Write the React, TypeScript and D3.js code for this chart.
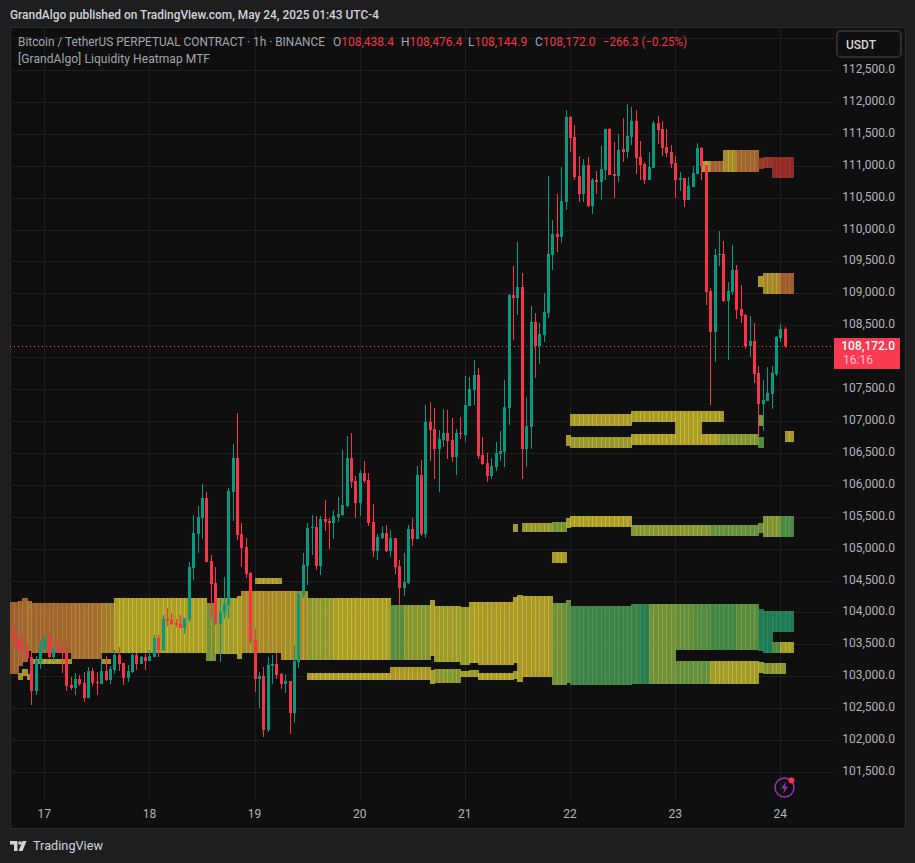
import * as d3 from "d3"

const WIDTH = 915
const HEIGHT = 863

// open, high, low, close of every 1h bar, the first one is bar -8 (16 May 16:00), bar 0 is 17 May 00:00
const firstBar = -8
const candles = [
  [103830,103986,103464,103647],[103647,103777,103490,103553],[103569,103647,103360,103459],[103474,103647,103360,103396],
  [103412,103516,103229,103287],[103297,103360,102550,102769],[102769,103318,102707,103255],[103224,103569,103114,103474],
  [103428,103631,103412,103605],[103600,103663,103281,103302],[103302,103454,103245,103443],[103443,103600,103365,103386],
  [103412,103542,103052,103365],[103375,103516,102769,102848],[102863,102989,102785,102816],[102816,103052,102707,102957],
  [102957,103020,102848,102879],[102895,103062,102597,102660],[102660,103145,102660,103083],[103083,103130,102848,102895],
  [102910,103062,102707,102895],[102879,103266,102879,103083],[103083,103318,102926,102942],[102942,103161,102879,103114],
  [103098,103412,103036,103334],[103334,103459,103083,103192],[103208,103208,102863,102973],[102973,103177,102910,103083],
  [103067,103381,103052,103334],[103334,103365,103098,103192],[103192,103318,103192,103302],[103302,103349,103098,103240],
  [103240,103412,103240,103318],[103302,103647,103302,103600],[103600,103647,103302,103412],[103412,103960,103396,103898],
  [103898,104070,103788,103866],[103882,103992,103804,103819],[103835,103898,103772,103804],[103819,103960,103757,103757],
  [103757,103913,103663,103913],[103897,104790,103851,104712],[104696,105522,104508,105245],[105229,105663,104931,105495],
  [105480,106012,105151,105793],[105793,105887,104790,104790],[104806,104900,103898,104446],[104461,104712,103804,103819],
  [103819,104210,103229,104007],[103991,104555,103898,104133],[104117,105950,103908,105903],[105887,106639,105433,106420],
  [106420,107125,105135,105213],[105229,105401,104712,105010],[105025,105166,104540,104602],[104618,104630,103506,103558],
  [103569,103741,102759,102963],[102957,103062,102508,103004],[103004,103140,102054,102158],[102158,103302,102132,103177],
  [103161,103334,102879,103193],[103193,103365,102957,103020],[103036,103052,102801,102879],[102879,103036,102738,102926],
  [102926,102926,102101,102425],[102425,103490,102268,103240],[103224,104337,103130,104289],[104274,104932,104227,104744],
  [104728,105402,104431,105324],[105324,105527,104901,105339],[105339,105512,104666,104728],[104728,105512,104587,105465],
  [105465,105762,105277,105418],[105433,105480,104995,105402],[105402,105606,105151,105512],[105496,105809,105418,105543],
  [105527,106546,105512,105684],[105668,106765,105653,106421],[106421,106812,105950,106044],[106060,106138,105480,105715],
  [105715,106232,105512,106185],[106185,106373,106029,106060],[106076,106185,105355,105402],[105418,105700,104869,104963],
  [104963,105230,104822,105183],[105167,105355,105151,105245],[105245,105371,104948,104963],[104963,105292,104869,105167],
  [105167,105167,104603,104713],[104728,104822,104117,104384],[104384,104932,104258,104478],[104462,105371,104446,105308],
  [105308,105480,105042,105151],[105151,106295,105151,106154],[106154,106389,105198,105230],[105230,107251,105167,106985],
  [106985,107298,106373,106859],[106875,107204,106091,106561],[106561,106859,105888,106718],[106703,107188,106593,106812],
  [106812,107173,106405,106687],[106703,107047,106358,106436],[106436,106875,106154,106812],[106812,107063,106718,106797],
  [106781,107705,106671,107251],[107235,107690,107235,107502],[107486,107956,107251,107721],[107721,107831,106405,106452],
  [106467,106750,106311,106326],[106342,106499,106044,106138],[106138,106421,106091,106295],[106279,106671,106217,106499],
  [106483,106844,106373,106530],[106514,107643,106279,107220],[107204,108990,106938,108975],[108975,109429,108269,108928],
  [108928,109805,108661,109100],[109100,109319,106091,106561],[106561,107376,106279,106922],[106906,108802,106561,108551],
  [108551,108693,107674,108175],[108175,108536,107893,108363],[108348,109006,108238,108708],[108693,110839,108614,109617],
  [109601,110150,109366,109930],[109930,110557,109648,109883],[109883,110980,109789,110447],[110432,111873,110306,111764],
  [111764,111779,111215,111435],[111450,111638,110776,110823],[110839,111153,110432,110557],[110557,111106,110432,111012],
  [111012,111137,110353,110369],[110369,110808,110244,110776],[110776,110918,110557,110745],[110745,111309,110463,110949],
  [110933,111576,110776,111576],[111576,111591,110855,110855],[110870,111372,110494,110839],[110839,111497,110745,111247],
  [111262,111748,111059,111215],[111215,111967,111121,111466],[111450,111920,111325,111701],[111701,111873,110870,111121],
  [111137,111388,110776,111012],[111027,111059,110714,110776],[110776,111215,110776,110980],[110965,111701,110965,111670],
  [111670,111779,111341,111560],[111576,111701,111153,111278],[111294,111576,111137,111200],[111215,111325,110965,111027],
  [111043,111153,110494,110776],[110776,110902,110604,110808],[110808,110808,110353,110463],[110463,110823,110463,110682],
  [110667,110996,110667,110886],[110870,111356,110870,111278],[111278,111294,110777,110996],[111012,111012,108818,109022],
  [109037,109084,107251,108395],[108395,109695,107925,109601],[109601,109977,109429,109617],[109617,109821,108865,108881],
  [108881,109178,107956,109037],[109022,109758,108975,109366],[109366,109445,108599,108740],[108755,109131,108536,108646],
  [108661,108677,108128,108175],[108175,108646,108003,108254],[108254,108536,107596,107737],[107752,107862,106734,107267],
  [107267,107643,106844,107329],[107314,107846,107314,107439],[107423,107862,107188,107752],[107737,108332,107705,108317],
  [108301,108520,108238,108442],[108438.4,108476.4,108144.9,108172],
]

// liquidity zones: start bar, end bar, top price, bottom price, heat (0 red .. 0.5 yellow .. 1 teal)
const mainZones = [
  [-8,-6,104164,103035,.28],[-6,-5,104179,103161,.3],[-6,-5,103051,102941,.44],[-5,-4,104226,103223,.3],
  [-5,-4,103114,103004,.46],[-4,-3,104179,103396,.34],[-4,-3,103035,102941,.46],[-3,6,104148,103364,.3],
  [-3,6,103270,103192,.48],[6,13,104148,103270,.33],[13,16,104148,103364,.38],[13,15,103270,103192,.46],
  [16,37,104226,103364,.5],[37,39,104148,103239,.62],[39,44,104226,103349,.52],[44,45,104258,103270,.5],
  [45,54,104336,103364,.43],[54,60,104336,103255,.44],[60,66,104226,103255,.56],[66,79,104226,103255,.5],
  [60,79,103051,102941,.5],[79,82,104117,103255,.68],[82,88,104117,103255,.58],[79,88,103145,102941,.47],
  [88,89,104195,103317,.49],[88,89,103098,102879,.5],[89,95,104101,103223,.53],[89,95,103114,102894,.58],
  [95,97,104085,103176,.55],[95,97,103082,102988,.52],[97,99,104164,103208,.5],[97,99,103098,102988,.55],
  [99,107,104164,103176,.48],[99,107,103051,102941,.5],[107,108,104242,103208,.5],[107,108,103082,102957,.55],
  [108,109,104273,102910,.49],[109,116,104258,102988,.48],[116,119,104148,102863,.63],[119,120,104195,102894,.67],
  [120,134,104101,102863,.76],[134,136,104132,102879,.78],[136,138,104132,102879,.92],[138,144,104132,102879,.63],
  [144,148,104132,103411,.66],[148,152,104132,103411,.7],[144,152,103239,102879,.66],[152,158,104132,103411,.74],
  [158,163,104132,103411,.68],[152,163,103239,102879,.52],[163,164,104054,103396,.94],
  [163,164,103223,103051,.52],[164,166,104022,103364,.98],[164,166,103208,103035,.6],[166,168,104022,103693,.98],
  [166,168,103537,103364,.72],[166,169,103208,103035,.56],[168,171,104022,103693,.98],[168,171,103537,103364,.52],
]

const middleZones = [
  [48,54,104540,104446,.48],[116,119,104947,104775,.48],[107,108,105386,105260,.52],[109,116,105402,105260,.55],
  [116,119,105417,105260,.62],[119,120,105480,105323,.52],[120,134,105511,105339,.5],[134,152,105370,105198,.58],
  [152,163,105370,105198,.66],[163,164,105402,105245,.66],[164,168,105511,105182,.6],[168,171,105511,105182,.72],
]

const upperZones = [
  [120,134,107110,106921,.48],[134,144,107157,106984,.49],[144,150,107157,106624,.5],[150,155,107157,106984,.49],
  [119,120,106780,106608,.48],[120,134,106749,106577,.55],[134,144,106796,106624,.5],[150,154,106796,106624,.5],
  [154,163,106796,106624,.58],[163,164,106749,106577,.7],[163,164,107094,106921,.6],[169,171,106843,106671,.48],
  [150,152,111074,110902,.5],[152,155,111074,110902,.28],[155,158,111246,110902,.44],[158,163,111246,110902,.3],
  [163,164,111121,110949,.12],[164,166,111137,110964,.1],[166,171,111137,110808,.06],
  [163,164,109272,109100,.48],[164,168,109319,108990,.42],[168,171,109319,108990,.27],
]

const dayLabels = ["17", "18", "19", "20", "21", "22", "23", "24"]
const lastPrice = 108172
const legendValues = [
  { x: 333, key: "O", value: "108,438.4" },
  { x: 401, key: "H", value: "108,476.4" },
  { x: 468, key: "L", value: "108,144.9" },
  { x: 535, key: "C", value: "108,172.0" },
]

const FONT = "Roboto, sans-serif"
const UP = "#089981"
const DOWN = "#f9324a"
const GRID = "#1f1f1f"

const paneLeft = 10
const paneRight = 833
const paneTop = 27
const paneBottom = 800

const x = d3.scaleLinear().domain([0, 168]).range([44.3, 780.3])
const y = d3.scaleLinear().domain([112500, 101500]).range([70, 772])
const heat = d3
  .scaleLinear<string>()
  .domain([0, 0.3, 0.5, 0.75, 1])
  .range(["#a8232a", "#c07a38", "#cfc030", "#4d9f55", "#229267"])

const gridPrices = d3.range(101500, 113500, 500)
const labelPrices = d3.range(101500, 113000, 500)
const allZones = [...mainZones, ...middleZones, ...upperZones]

export default function App() {
  const priceLabel = d3.format(",.1f")

  return (
    <svg
      width={WIDTH}
      height={HEIGHT}
      viewBox={`0 0 ${WIDTH} ${HEIGHT}`}
      style={{ position: "absolute", left: 0, top: 0, display: "block" }}
      fontFamily={FONT}
    >
      <defs>
        <clipPath id="pane">
          <rect x={paneLeft} y={paneTop} width={paneRight - paneLeft} height={paneBottom - paneTop} />
        </clipPath>
      </defs>

      <rect width={WIDTH} height={HEIGHT} fill="#1e1e1e" />
      <text x={10} y={19} fontSize={12} fontWeight={500} fill="#d1d4dc" textLength={369} lengthAdjust="spacingAndGlyphs">
        GrandAlgo published on TradingView.com, May 24, 2025 01:43 UTC-4
      </text>
      <rect x={10} y={27} width={895} height={801} fill="#0f0f0f" stroke="#2c2c2c" strokeWidth={1} shapeRendering="crispEdges" />

      {/* grid */}
      <g shapeRendering="crispEdges" stroke={GRID}>
        {gridPrices.map((p) => (
          <line key={p} x1={paneLeft} x2={paneRight} y1={Math.round(y(p))} y2={Math.round(y(p))} />
        ))}
        {dayLabels.map((d, i) => (
          <line key={d} x1={Math.round(x(i * 24))} x2={Math.round(x(i * 24))} y1={paneTop} y2={paneBottom} />
        ))}
      </g>

      {/* heatmap, one column per bar, the 1px overlap gives the light stripes */}
      <g clipPath="url(#pane)" shapeRendering="crispEdges">
        {allZones.flatMap(([start, end, top, bottom, h], zi) =>
          d3.range(start, end).map((bar) => {
            const x0 = Math.round(x(bar))
            const x1 = Math.round(x(bar + 1))
            const y0 = Math.round(y(top))
            return (
              <rect
                key={`${zi}-${bar}`}
                x={x0}
                y={y0}
                width={x1 - x0 + 1}
                height={Math.round(y(bottom)) - y0}
                fill={heat(h)}
                fillOpacity={0.8}
              />
            )
          }),
        )}
      </g>

      {/* candles */}
      <g clipPath="url(#pane)" shapeRendering="crispEdges">
        {candles.map(([o, h, l, c], i) => {
          const cx = Math.round(x(firstBar + i))
          const color = c >= o ? UP : DOWN
          const bodyTop = Math.round(y(Math.max(o, c)))
          const bodyBottom = Math.round(y(Math.min(o, c)))
          return (
            <g key={i} fill={color}>
              <rect x={cx} y={Math.round(y(h))} width={1} height={Math.max(1, Math.round(y(l)) - Math.round(y(h)))} />
              <rect x={cx - 1} y={bodyTop} width={3} height={Math.max(1, bodyBottom - bodyTop)} />
            </g>
          )
        })}
      </g>

      {/* last price line */}
      <line
        x1={paneLeft}
        x2={paneRight}
        y1={Math.round(y(lastPrice))}
        y2={Math.round(y(lastPrice))}
        stroke="#f23645"
        strokeDasharray="1 3"
        shapeRendering="crispEdges"
      />

      {/* legend */}
      <g fontSize={12}>
        <text x={18} y={46} fill="#a3a6af" textLength={307} lengthAdjust="spacingAndGlyphs">
          Bitcoin / TetherUS PERPETUAL CONTRACT · 1h · BINANCE
        </text>
        {legendValues.map((v) => (
          <text key={v.key} x={v.x} y={46} fill="#a3a6af">
            {v.key}
            <tspan fill="#f23645">{v.value}</tspan>
          </text>
        ))}
        <text x={603} y={46} fill="#f23645" textLength={84} lengthAdjust="spacingAndGlyphs">
          −266.3 (−0.25%)
        </text>
        <text x={18} y={63} fill="#a3a6af" textLength={192} lengthAdjust="spacing">
          [GrandAlgo] Liquidity Heatmap MTF
        </text>
      </g>

      {/* price axis */}
      <g fontSize={12} fill="#b2b5bc" textAnchor="end">
        {labelPrices
          .filter((p) => p !== 108000)
          .map((p) => (
            <text key={p} x={895} y={y(p) + 3}>
              {priceLabel(p)}
            </text>
          ))}
      </g>
      <rect x={837} y={31} width={64} height={26} rx={4} fill="#0f0f0f" stroke="#3a3a3a" strokeWidth={1.5} />
      <text x={846} y={49} fontSize={12} fontWeight={500} fill="#d1d4dc">
        USDT
      </text>
      <rect x={834} y={338} width={66} height={31} fill="#f9394f" />
      <text x={895} y={350} fontSize={12} fontWeight={500} fill="#ffffff" textAnchor="end">
        {priceLabel(lastPrice)}
      </text>
      <text x={843} y={364} fontSize={12} fill="#ffc4cc">
        16:16
      </text>

      {/* time axis */}
      <g fontSize={12} fill="#b2b5bc" textAnchor="middle">
        {dayLabels.map((d, i) => (
          <text key={d} x={x(i * 24)} y={818}>
            {d}
          </text>
        ))}
      </g>

      {/* alert badge */}
      <circle cx={784.5} cy={787.5} r={9.5} fill="none" stroke="#9c2fb5" strokeWidth={1.5} />
      <path d="M786 781.5 L781.5 788.5 H784.5 L783 794 L788 786.5 H785 Z" fill="#9c2fb5" />
      <circle cx={791.5} cy={780.5} r={3} fill="#f23645" />

      {/* TradingView mark */}
      <g fill="#d1d4dc">
        <path d="M10 841 H17.5 V851 H14 V844.5 H10 Z" />
        <circle cx={20} cy={843} r={1.8} />
        <path d="M26.5 841 L22.5 851 H18.5 L22.5 841 Z" />
      </g>
      <text x={33} y={850} fontSize={13} fill="#d1d4dc" textLength={70} lengthAdjust="spacingAndGlyphs">
        TradingView
      </text>
    </svg>
  )
}
